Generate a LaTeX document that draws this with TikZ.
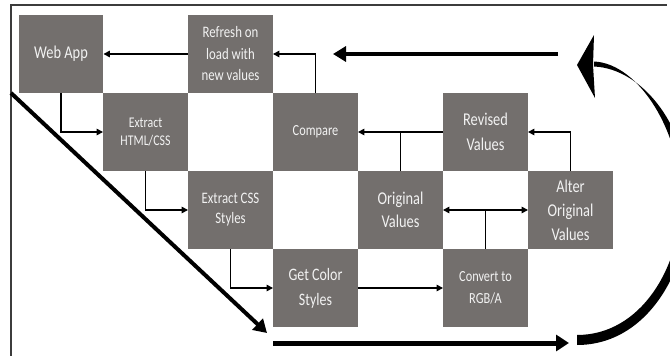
\documentclass[tikz,border=0pt]{standalone}
\usepackage{fontspec}
\newfontfamily\boxfont[FakeStretch=0.8]{Carlito}
\usetikzlibrary{arrows.meta}
\definecolor{boxgray}{RGB}{115,111,109}
\definecolor{boxtext}{RGB}{242,242,242}
\definecolor{framegray}{RGB}{60,60,60}
\tikzset{
  stepbox/.style={fill=boxgray, text=boxtext, minimum width=84.5pt, minimum height=77.5pt,
    inner sep=1pt, align=center, draw=none},
  fs/.style 2 args={font=\boxfont\fontsize{#1}{#2}\selectfont},
  link/.style={line width=1.5pt, -{Triangle[length=6.5pt,width=6.5pt]}},
  plainlink/.style={line width=1.5pt},
  biglink/.style={line width=4pt, -{Triangle[length=13pt,width=15pt]}},
}
\begin{document}
\begin{tikzpicture}[x=1pt,y=-1pt]
\useasboundingbox (0,0) rectangle (670,356);
\fill[white] (0,0) rectangle (670,356);
% frame
\draw[framegray, line width=1.5pt] (11,360) -- (11,5) -- (667,5);
% boxes
\node[stepbox, fs={18}{22}] (web) at (61,54) {Web App};
\node[stepbox, fs={16}{21.5}] (refresh) at (230.5,54) {Refresh on\\load with\\new values};
\node[stepbox, fs={14.8}{18}] (html) at (145.5,132) {Extract\\HTML/CSS};
\node[stepbox, fs={15.4}{22}] (compare) at (315.5,132) {Compare};
\node[stepbox, fs={18}{25}] (revised) at (485.5,132) {Revised\\Values};
\node[stepbox, fs={16}{20}] (css) at (230.5,210) {Extract CSS\\Styles};
\node[stepbox, fs={18}{23}] (orig) at (400.5,210) {Original\\Values};
\node[stepbox, fs={18}{24}] (alter) at (570.5,210) {Alter\\Original\\Values};
\node[stepbox, fs={17.5}{25}] (color) at (315.5,288) {Get Color\\Styles};
\node[stepbox, fs={15.4}{22}] (convert) at (485.5,288) {Convert to\\RGB/A};
% thin connectors
\draw[link] (refresh.west) -- (web.east);
\draw[link] (compare.north) |- (refresh.east);
\draw[link] (web.south) |- (html.west);
\draw[link] (html.south) |- (css.west);
\draw[link] (css.south) |- (color.west);
\draw[link] (color.east) -- (convert.west);
\coordinate (jn) at (convert.north |- orig.east);
\draw[plainlink] (convert.north) -- (jn);
\draw[line width=1.5pt, {Triangle[length=6.5pt,width=6.5pt]}-{Triangle[length=6.5pt,width=6.5pt]}] (orig.east) -- (alter.west);
\draw[link] (alter.north) |- (revised.east);
\draw[link] (revised.west) -- (compare.east);
\coordinate (jt) at (orig.north |- compare.east);
\draw[plainlink] (orig.north) -- (jt);
% big arrows
\coordinate (topS) at (558,54);
\coordinate (topE) at (333,54);
\coordinate (diagS) at (11,93);
\coordinate (diagE) at (267,333);
\coordinate (botS) at (273,343);
\coordinate (botE) at (569,343);
\draw[biglink] (topS) -- (topE);
\draw[biglink] (diagS) -- (diagE);
\draw[line width=5pt, -{Triangle[length=13pt,width=16pt]}] (botS) -- (botE);
% curved crescent arrow
\fill[black] (577,345) .. controls (647,345) and (689,271) .. (689,200)
  .. controls (689,128) and (643,68.5) .. (594,66.5)
  -- (594,61.5) .. controls (639,63.5) and (681,132) .. (681,200)
  .. controls (681,267) and (641,335) .. (577,335) -- cycle;
\fill[black] (577,65) -- (594,35) -- (593,65) -- (595,98) -- cycle;
\end{tikzpicture}
\end{document}
